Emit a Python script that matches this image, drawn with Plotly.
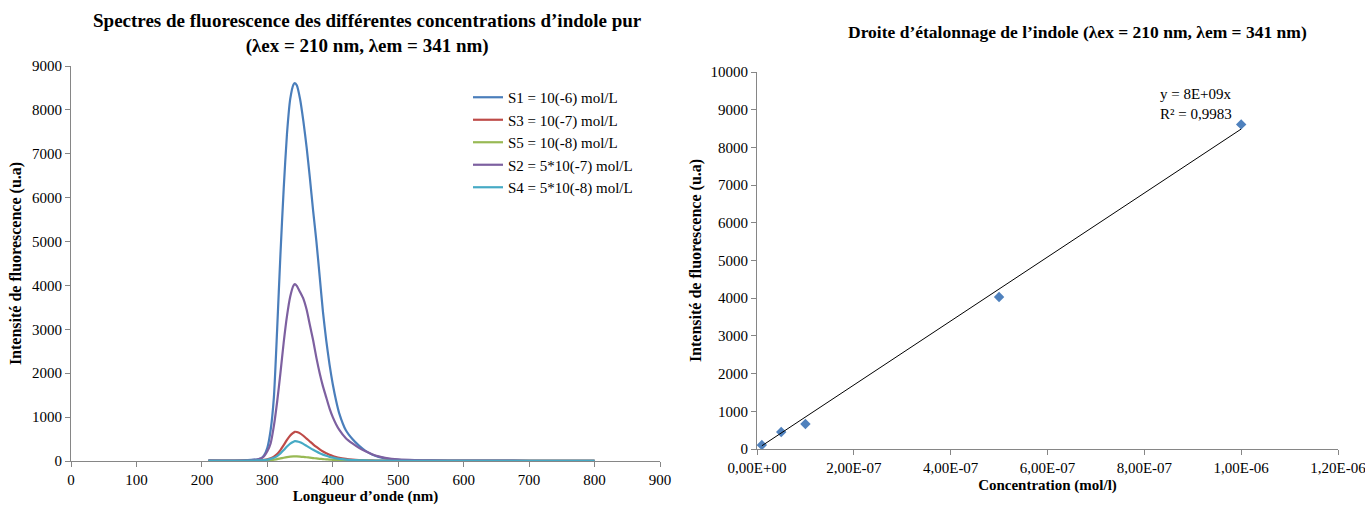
import numpy as np
import plotly.graph_objects as go

# ---------------- data ----------------
wavelength = [210, 230, 250, 270, 280, 285, 290, 295, 300, 305, 310, 315, 320, 325, 330, 335, 340, 342, 345,
              350, 355, 360, 365, 370, 375, 380, 385, 390, 395, 400, 405, 410, 420, 430, 440, 450, 460, 470,
              480, 490, 500, 525, 550, 600, 650, 700, 750, 800]

s1 = [12, 8, 10, 18, 30, 40, 60, 130, 300, 700, 1450, 3000, 4700, 6200, 7450, 8250, 8580, 8610, 8560,
      8250, 7750, 7150, 6450, 5700, 5000, 4200, 3400, 2750, 2200, 1750, 1380, 1080, 700, 500, 350, 230, 150, 95,
      60, 40, 28, 16, 12, 9, 7, 6, 5, 5]
s3 = [5, 4, 5, 8, 12, 15, 20, 28, 40, 65, 100, 160, 250, 360, 480, 580, 645, 665, 660,
      630, 575, 510, 445, 380, 320, 265, 215, 175, 140, 112, 90, 72, 48, 32, 22, 16, 12, 10,
      8, 7, 6, 5, 4, 4, 3, 3, 3, 3]
s5 = [3, 3, 3, 4, 5, 6, 8, 10, 14, 20, 30, 42, 58, 75, 90, 100, 104, 105, 104,
      100, 93, 85, 76, 67, 58, 50, 43, 37, 31, 27, 23, 20, 15, 11, 9, 7, 6, 5,
      5, 4, 4, 3, 3, 3, 3, 3, 3, 3]
s2 = [10, 8, 9, 15, 25, 35, 55, 110, 220, 400, 800, 1350, 2000, 2700, 3300, 3750, 4000, 4030, 3990,
      3850, 3700, 3450, 3100, 2750, 2350, 2000, 1700, 1450, 1200, 1000, 840, 710, 520, 400, 300, 220, 155, 105,
      72, 50, 36, 20, 13, 9, 7, 6, 5, 5]
s4 = [5, 4, 5, 7, 10, 12, 16, 22, 30, 48, 72, 112, 172, 248, 330, 398, 440, 452, 448,
      428, 390, 345, 300, 256, 215, 178, 145, 118, 95, 76, 61, 49, 33, 23, 16, 12, 9, 8,
      7, 6, 5, 4, 4, 3, 3, 3, 3, 3]

series_names = ["S1 = 10(-6) mol/L", "S3 = 10(-7) mol/L", "S5 = 10(-8) mol/L",
                "S2 = 5*10(-7) mol/L", "S4 = 5*10(-8) mol/L"]
series_values = [s1, s3, s5, s2, s4]
series_colors = ["#4a7ebb", "#be4b48", "#98b954", "#7d60a0", "#46aac5"]

concentration = [1e-8, 5e-8, 1e-7, 5e-7, 1e-6]
peak_intensity = [105, 452, 665, 4030, 8610]

left_xticks = [0, 100, 200, 300, 400, 500, 600, 700, 800, 900]
left_yticks = [0, 1000, 2000, 3000, 4000, 5000, 6000, 7000, 8000, 9000]
right_xticks = [0, 2e-7, 4e-7, 6e-7, 8e-7, 1e-6, 1.2e-6]
right_xticklabels = ["0,00E+00", "2,00E-07", "4,00E-07", "6,00E-07", "8,00E-07", "1,00E-06", "1,20E-06"]
right_yticks = [0, 1000, 2000, 3000, 4000, 5000, 6000, 7000, 8000, 9000, 10000]

# ---------------- figure ----------------
FONT = "Liberation Serif"
W, H = 1365, 509


def px(x):   # reference pixel x -> paper fraction
    return x / W


def py(y):   # reference pixel y (from top) -> paper fraction
    return 1 - y / H


fig = go.Figure()

for name, vals, col in zip(series_names, series_values, series_colors):
    fig.add_trace(go.Scatter(x=wavelength, y=vals, mode="lines", name=name,
                             line=dict(color=col, width=2.2, shape="spline", smoothing=0.6),
                             xaxis="x", yaxis="y", showlegend=True))

# calibration points
fig.add_trace(go.Scatter(x=concentration, y=peak_intensity, mode="markers",
                         marker=dict(symbol="diamond", size=8, color="#4f81bd"),
                         xaxis="x2", yaxis="y2", showlegend=False))

# linear trendline through origin (least squares)
cx = np.array(concentration)
cy = np.array(peak_intensity)
slope = float((cx * cy).sum() / (cx * cx).sum())
fit_x = [cx.min(), cx.max()]
fig.add_trace(go.Scatter(x=fit_x, y=[slope * v for v in fit_x], mode="lines",
                         line=dict(color="black", width=1), xaxis="x2", yaxis="y2",
                         showlegend=False))

axis_common = dict(showline=True, linecolor="#868686", linewidth=1, ticks="outside",
                   tickcolor="#868686", ticklen=5, showgrid=False, zeroline=False,
                   automargin=False, ticklabeloverflow="allow",
                   tickfont=dict(family=FONT, size=15, color="black"))

fig.update_layout(
    width=W, height=H,
    margin=dict(l=0, r=0, t=0, b=0, autoexpand=False),
    paper_bgcolor="white", plot_bgcolor="white",
    font=dict(family=FONT, color="black"),
    xaxis=dict(domain=[px(71), px(660)], range=[0, 900], tickvals=left_xticks, anchor="y",
               title=dict(text="<b>Longueur d’onde (nm)</b>", font=dict(family=FONT, size=15), standoff=2),
               **axis_common),
    yaxis=dict(domain=[py(461), py(66)], range=[0, 9000], tickvals=left_yticks, anchor="x",
               tickformat="d",
               title=dict(text="<b>Intensité de fluorescence (u.a)</b>", font=dict(family=FONT, size=16), standoff=6),
               **axis_common),
    xaxis2=dict(domain=[px(757), px(1338)], range=[0, 1.2000001e-6], tickvals=right_xticks,
                ticktext=right_xticklabels, anchor="y2",
                title=dict(text="<b>Concentration (mol/l)</b>", font=dict(family=FONT, size=15), standoff=4),
                **axis_common),
    yaxis2=dict(domain=[py(449), py(72)], range=[0, 10000], tickvals=right_yticks, anchor="x2",
                tickformat="d",
                title=dict(text="<b>Intensité de fluorescence (u.a)</b>", font=dict(family=FONT, size=16), standoff=4),
                **axis_common),
    legend=dict(x=px(468), y=py(81), xanchor="left", yanchor="top",
                font=dict(family=FONT, size=15, color="black"), bgcolor="rgba(0,0,0,0)",
                tracegroupgap=0, itemwidth=30),
    annotations=[
        dict(text="<b>Spectres de fluorescence des différentes concentrations d’indole pur<br>(λex = 210 nm, λem = 341 nm)</b>",
             x=px(367), y=py(8), xref="paper", yref="paper", xanchor="center", yanchor="top",
             showarrow=False, font=dict(family=FONT, size=19)),
        dict(text="<b>Droite d’étalonnage de l’indole (λex = 210 nm, λem = 341 nm)</b>",
             x=px(1077), y=py(20), xref="paper", yref="paper", xanchor="center", yanchor="top",
             showarrow=False, font=dict(family=FONT, size=17.5)),
        dict(text="y = 8E+09x<br>R² = 0,9983", x=px(1196), y=py(84), xref="paper", yref="paper",
             xanchor="center", yanchor="top", showarrow=False, align="left",
             font=dict(family=FONT, size=15)),
    ],
)

# remove the default 8px page margin so the figure fills the window exactly
fig.write_html("out.html", config={"displayModeBar": False},
               post_script="document.body.style.margin='0';document.body.style.overflow='hidden';")
